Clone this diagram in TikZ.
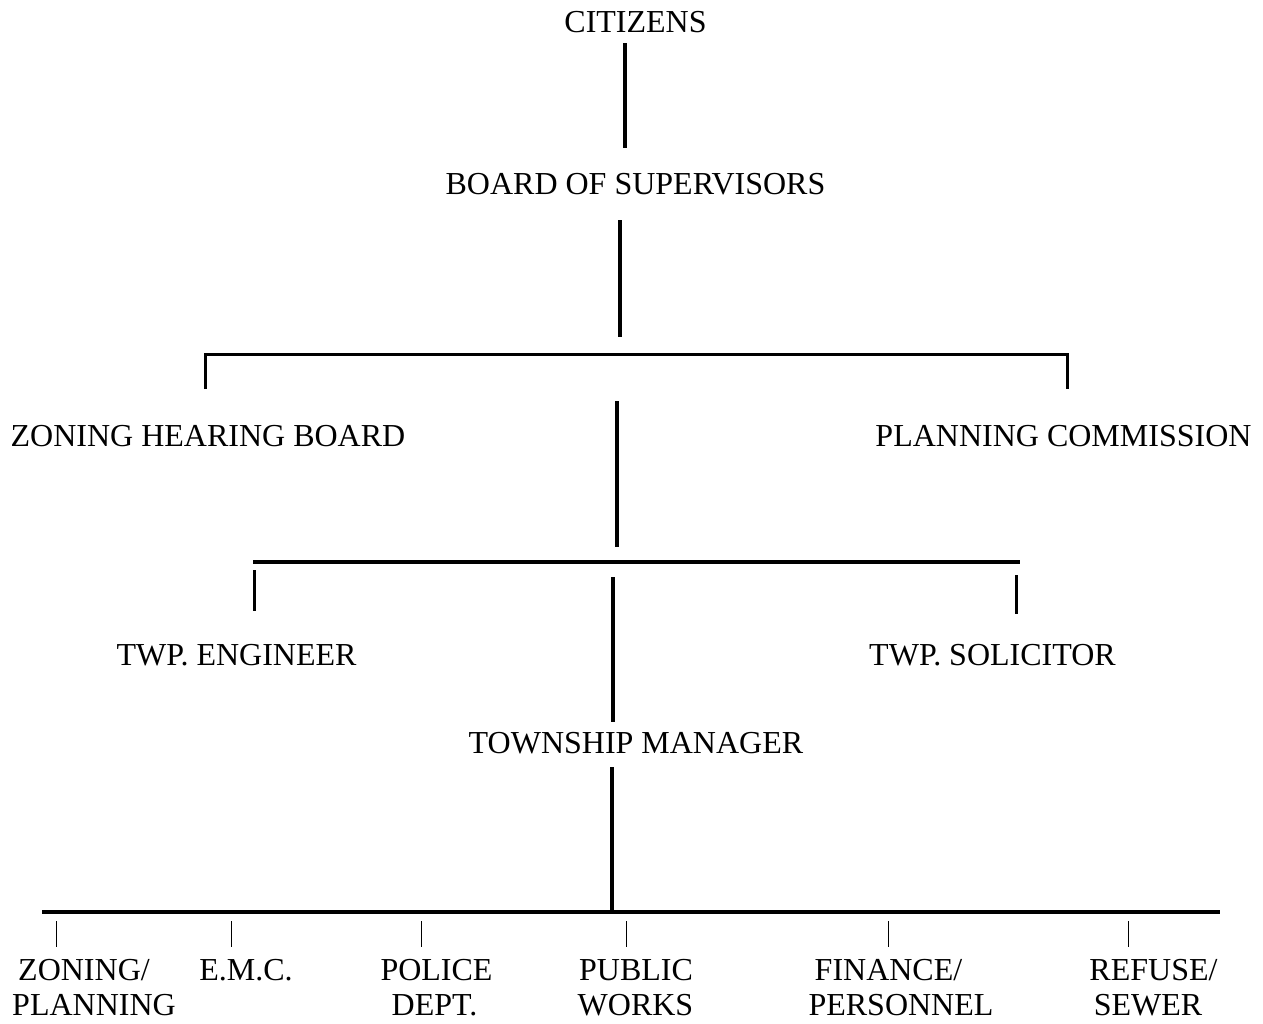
\documentclass[tikz,border=0pt]{standalone}
\usepackage{fontspec}
\setmainfont{Liberation Serif}
\begin{document}
\begin{tikzpicture}[x=1pt,y=-1pt,
  lbl/.style={inner sep=0pt,anchor=base,font=\fontsize{32}{36}\selectfont},
  thick line/.style={line width=3.6pt},
  bar/.style={line width=3.8pt},
  tick/.style={line width=3pt},
  thin tick/.style={line width=1pt}]
\useasboundingbox (0,0) rectangle (1263,1023);
% labels
\node[lbl] (cit) at (635.5,32) {CITIZENS};
\node[lbl] (bos) at (635.5,194) {BOARD OF SUPERVISORS};
\node[lbl] (zhb) at (208,446) {ZONING HEARING BOARD};
\node[lbl] (pc) at (1063.5,446) {PLANNING COMMISSION};
\node[lbl] (eng) at (236.5,665) {TWP. ENGINEER};
\node[lbl] (sol) at (992.5,665) {TWP. SOLICITOR};
\node[lbl] (tm) at (636,753) {TOWNSHIP MANAGER};
\node[lbl] (zpa) at (84,980) {ZONING/};
\node[lbl] (zpb) at (94,1015) {PLANNING};
\node[lbl] (emc) at (246,980) {E.M.C.};
\node[lbl] (pda) at (436.5,980) {POLICE};
\node[lbl] (pdb) at (434.5,1015) {DEPT.};
\node[lbl] (pwa) at (636,980) {PUBLIC};
\node[lbl] (pwb) at (635.5,1015) {WORKS};
\node[lbl] (fpa) at (888.5,980) {FINANCE/};
\node[lbl] (fpb) at (901,1015) {PERSONNEL};
\node[lbl] (rsa) at (1153.5,980) {REFUSE/};
\node[lbl] (rsb) at (1148,1015) {SEWER};
% connector ends
\coordinate (c1a) at (625,43);  \coordinate (c1b) at (625,148);
\coordinate (c2a) at (620,220); \coordinate (c2b) at (620,337);
\coordinate (b1l) at (205,354); \coordinate (b1r) at (1067,354);
\coordinate (t1l) at (205,389); \coordinate (t1r) at (1067,389);
\coordinate (c3a) at (617,401); \coordinate (c3b) at (617,547);
\coordinate (b2l) at (253,562); \coordinate (b2r) at (1020,562);
\coordinate (t2la) at (254,570); \coordinate (t2lb) at (254,611);
\coordinate (t2ra) at (1016,575); \coordinate (t2rb) at (1016,614);
\coordinate (c4a) at (613,577); \coordinate (c4b) at (613,722);
\coordinate (c5a) at (612,767); \coordinate (c5b) at (612,912);
\coordinate (b3l) at (42,912); \coordinate (b3r) at (1220,912);
% connectors
\draw[thick line] (c1a) -- (c1b);
\draw[thick line] (c2a) -- (c2b);
\draw[tick] (t1l) -- (b1l) -- (b1r) -- (t1r);
\draw[thick line] (c3a) -- (c3b);
\draw[bar] (b2l) -- (b2r);
\draw[tick] (t2la) -- (t2lb);
\draw[tick] (t2ra) -- (t2rb);
\draw[thick line] (c4a) -- (c4b);
\draw[thick line] (c5a) -- (c5b);
\draw[bar] (b3l) -- (b3r);
\foreach \x/\n in {56/zp,231/emc,421/pd,626/pw,888/fp,1128/rs}{
  \coordinate (k\n a) at (\x,921); \coordinate (k\n b) at (\x,947);
  \draw[thin tick] (k\n a) -- (k\n b);
}
\end{tikzpicture}
\end{document}
